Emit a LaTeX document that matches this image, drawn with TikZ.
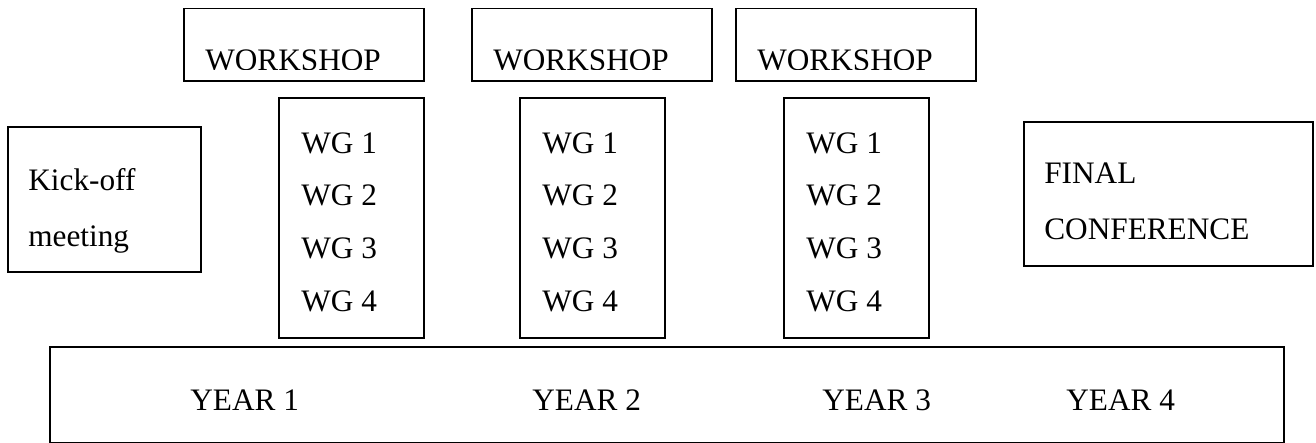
\documentclass[tikz,border=0pt]{standalone}
\usepackage{fontspec}
\setmainfont{Liberation Serif}
\usepackage{tikz}

\tikzset{
	box/.style={draw,line width=1pt,rectangle,inner sep=0pt,anchor=north west},
	lbl/.style={font=\fontsize{17.8}{21}\selectfont,inner sep=0pt,anchor=base west},
}

\begin{document}
\begin{tikzpicture}[x=0.02cm,y=-0.02cm]
	\useasboundingbox (0,0) rectangle (1316,443);
	
	%KICK-OFF
	\node[box,minimum width=3.86cm,minimum height=2.9cm] (kickoff) at (7,126) {};
	\node[lbl] (kickoff1) at (28,190) {Kick-off};
	\node[lbl] (kickoff2) at (28,246) {meeting};
	
	%WORKSHOPS
	\foreach \x/\n in {183/1,471/2,735/3}{
		\node[box,minimum width=4.8cm,minimum height=1.46cm] (workshop\n) at (\x,7.5) {};
	}
	\begin{scope}
		\clip (0,0) rectangle (1316,69);		%text cut at the bottom
		\foreach \x/\n in {205/1,493/2,757/3}{
			\node[lbl] (workshoptext\n) at (\x,70) {WORKSHOP};
		}
	\end{scope}
	
	%WORKING GROUPS
	\foreach \x/\n in {278/1,519/2,783/3}{
		\node[box,minimum width=2.9cm,minimum height=4.8cm] (wg\n) at (\x,97) {};
		\foreach \k in {1,...,4}{			%WG 1 to WG 4
			\node[lbl] (wg\n-\k) at (\x+23,153+52.7*\k-52.7) {WG \k};
		}
	}
	
	%FINAL CONFERENCE
	\node[box,minimum width=5.78cm,minimum height=2.88cm] (final) at (1023,121) {};
	\node[lbl] (final1) at (1044,183) {FINAL};
	\node[lbl] (final2) at (1044,239) {CONFERENCE};
	
	%YEARS
	\node[box,minimum width=24.68cm,minimum height=1.92cm] (years) at (49,346) {};
	\foreach \x/\n in {190/1,532/2,822/3,1066/4}{
		\node[lbl] (year\n) at (\x,410) {YEAR \n};
	}
\end{tikzpicture}
\end{document}
